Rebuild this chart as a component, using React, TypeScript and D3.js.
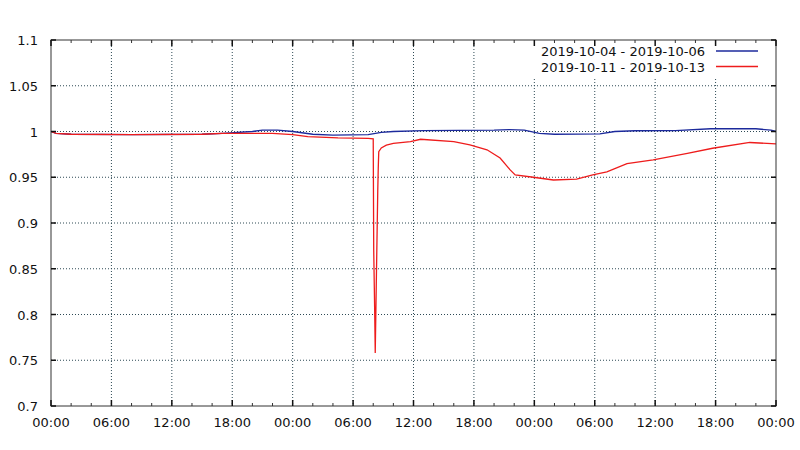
import React from "react";
import * as d3 from "d3";

const seriesNames = ["2019-10-04 - 2019-10-06", "2019-10-11 - 2019-10-13"];
const seriesColors = ["#1c2a9c", "#ee1c1c"];

const blueHours = [0, 0.5, 2, 8, 15, 17, 20, 21, 22.5, 24, 26, 28, 31.5, 32.8, 34, 37, 44, 45.5, 47, 48.5, 50, 54.5, 56, 58, 62, 65.5, 70, 71.5, 72];
const blueValues = [1.0, 0.998, 0.997, 0.9965, 0.997, 0.998, 1.0, 1.0015, 1.0015, 1.0, 0.997, 0.996, 0.9965, 0.999, 1.0, 1.001, 1.0015, 1.002, 1.0015, 0.998, 0.997, 0.9975, 1.0, 1.0008, 1.001, 1.003, 1.003, 1.0015, 1.0];

const redHours = [0, 0.5, 2, 8, 15, 17, 22, 24, 25.5, 28.5, 31.5, 32.0, 32.05, 32.15, 32.2, 32.3, 32.45, 32.5, 32.55, 32.8, 33.3, 34, 35.7, 36.7, 40, 41.6, 43.3, 44.6, 45.6, 46.1, 47.9, 49.9, 52.2, 53.8, 55.2, 57.2, 59.8, 63.2, 65.7, 69.4, 71.1, 72];
const redValues = [1.0, 0.998, 0.997, 0.9965, 0.997, 0.998, 0.998, 0.9965, 0.9945, 0.993, 0.9925, 0.992, 0.87, 0.8, 0.758, 0.83, 0.935, 0.96, 0.978, 0.982, 0.985, 0.987, 0.989, 0.9915, 0.989, 0.9855, 0.98, 0.971, 0.958, 0.9525, 0.95, 0.947, 0.948, 0.9525, 0.956, 0.965, 0.969, 0.976, 0.9817, 0.988, 0.987, 0.9865];

const xTickHours = [0, 6, 12, 18, 24, 30, 36, 42, 48, 54, 60, 66, 72];
const xTickLabels = ["00:00", "06:00", "12:00", "18:00", "00:00", "06:00", "12:00", "18:00", "00:00", "06:00", "12:00", "18:00", "00:00"];
const yTickValues = [0.7, 0.75, 0.8, 0.85, 0.9, 0.95, 1.0, 1.05, 1.1];
const yTickLabels = ["0.7", "0.75", "0.8", "0.85", "0.9", "0.95", "1", "1.05", "1.1"];

export default function App() {
  const left = 51, right = 776, top = 40, bottom = 406;
  const x = d3.scaleLinear().domain([0, 72]).range([left, right]);
  const y = d3.scaleLinear().domain([0.7, 1.1]).range([bottom, top]);
  const line = d3.line<[number, number]>().x(d => x(d[0])).y(d => y(d[1]));
  const blue = line(blueHours.map((h, i) => [h, blueValues[i]] as [number, number])) || "";
  const red = line(redHours.map((h, i) => [h, redValues[i]] as [number, number])) || "";
  const minorHours = d3.range(0, 73, 2).filter(h => h % 6 !== 0);
  const font = "'DejaVu Sans', sans-serif";
  const gridColor = "#2e4a55";
  const legendLeft = 528, legendBottom = 77;
  return (
    <svg width={800} height={450} style={{ position: "absolute", left: 0, top: 0, background: "#fff" }} fontFamily={font}>
      <rect x={0} y={0} width={800} height={450} fill="#fff" />
      {/* grid */}
      {yTickValues.slice(1, -1).map((v, i) => (
        <line key={"gy" + i} x1={left} x2={right} y1={y(v)} y2={y(v)} stroke={gridColor} strokeWidth={1} strokeDasharray="1,2" />
      ))}
      {xTickHours.slice(1, -1).map((h, i) => (
        <line key={"gx" + i} x1={x(h)} x2={x(h)} y1={top} y2={bottom} stroke={gridColor} strokeWidth={1} strokeDasharray="1,2" />
      ))}
      {/* legend background */}
      <rect x={legendLeft} y={top} width={right - legendLeft} height={legendBottom - top} fill="#fff" />
      {/* series */}
      <path d={blue} fill="none" stroke={seriesColors[0]} strokeWidth={1.3} />
      <path d={red} fill="none" stroke={seriesColors[1]} strokeWidth={1.3} />
      {/* frame */}
      <rect x={left} y={top} width={right - left} height={bottom - top} fill="none" stroke="#333" strokeWidth={1} />
      {/* ticks */}
      {xTickHours.map((h, i) => (
        <g key={"xt" + i}>
          <line x1={x(h)} x2={x(h)} y1={bottom} y2={bottom - 6} stroke="#111" strokeWidth={1.5} />
          <line x1={x(h)} x2={x(h)} y1={top} y2={top + 6} stroke="#111" strokeWidth={1.5} />
        </g>
      ))}
      {minorHours.map((h, i) => (
        <g key={"xm" + i}>
          <line x1={x(h)} x2={x(h)} y1={bottom} y2={bottom - 3} stroke="#333" strokeWidth={1} />
          <line x1={x(h)} x2={x(h)} y1={top} y2={top + 3} stroke="#333" strokeWidth={1} />
        </g>
      ))}
      {yTickValues.map((v, i) => (
        <g key={"yt" + i}>
          <line x1={left} x2={left + 5} y1={y(v)} y2={y(v)} stroke="#111" strokeWidth={1.5} />
          <line x1={right} x2={right - 5} y1={y(v)} y2={y(v)} stroke="#111" strokeWidth={1.5} />
        </g>
      ))}
      {/* labels */}
      {yTickValues.map((v, i) => (
        <text key={"yl" + i} x={38} y={y(v) + 5} textAnchor="end" fontSize={13} fill="#111">{yTickLabels[i]}</text>
      ))}
      {xTickHours.map((h, i) => (
        <text key={"xl" + i} x={x(h)} y={427} textAnchor="middle" fontSize={13} fill="#111">{xTickLabels[i]}</text>
      ))}
      {/* legend */}
      {seriesNames.map((n, i) => (
        <g key={"lg" + i}>
          <text x={705} y={56 + i * 15.5} textAnchor="end" fontSize={13} fill="#111">{n}</text>
          <line x1={716} x2={758} y1={51 + i * 15.5} y2={51 + i * 15.5} stroke={seriesColors[i]} strokeWidth={1.3} />
        </g>
      ))}
    </svg>
  );
}
